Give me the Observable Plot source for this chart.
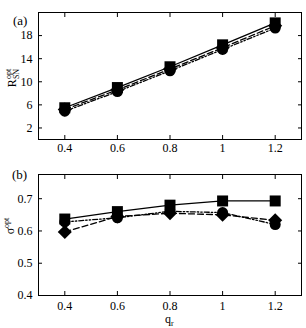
<!DOCTYPE html>
<html><head><meta charset="utf-8">
<script src="https://cdn.jsdelivr.net/npm/d3@7"></script>
<script src="https://cdn.jsdelivr.net/npm/@observablehq/plot@0.6"></script>
<style>
body{margin:0;background:#fff}
#wrap{position:relative;width:306px;height:328px;font-family:"Liberation Serif","DejaVu Serif",serif;color:#000}
#wrap svg{display:block}
.lbl{position:absolute;font-size:13px;line-height:1;white-space:nowrap}
.rot{position:absolute;font-size:12px;line-height:1;white-space:nowrap;transform:translate(-50%,-50%) rotate(-90deg)}
.stk{display:inline-flex;flex-direction:column;font-size:8px;line-height:0.95;vertical-align:middle}
</style></head><body><div id="wrap"></div>
<script>
const qr = [0.4, 0.6, 0.8, 1.0, 1.2];
const xTicks = [0.4, 0.6, 0.8, 1, 1.2];
const rSquare = [5.5, 9.0, 12.6, 16.4, 20.2];
const rDiamond = [5.2, 8.6, 12.2, 15.9, 19.7];
const rCircle = [4.9, 8.3, 11.9, 15.6, 19.3];
const rTicks = [2, 6, 10, 14, 18];
const sSquare = [0.637, 0.660, 0.680, 0.693, 0.693];
const sDiamond = [0.597, 0.645, 0.655, 0.650, 0.633];
const sCircle = [0.628, 0.641, 0.661, 0.657, 0.620];
const sTicks = [0.4, 0.5, 0.6, 0.7];

const diamondSym = {draw(ctx, size) {
  const h = Math.sqrt(size / 2);
  ctx.moveTo(0, -h); ctx.lineTo(h, 0); ctx.lineTo(0, h); ctx.lineTo(-h, 0); ctx.closePath();
}};

const seriesStyle = [
  {key: "square", symbol: "square", r: 6.2, dash: null},
  {key: "diamond", symbol: diamondSym, r: 5.6, dash: "6,3"},
  {key: "circle", symbol: "circle", r: 5.5, dash: "5,2,1.5,2,1.5,2"}
];

function rows(vals) {
  return qr.map((q, i) => ({q, v: vals[i]}));
}

function panel({height, marginTop, marginBottom, yDomain, yTicks, data, padX}) {
  const marks = [
    Plot.frame({stroke: "#000", strokeWidth: 1}),
    Plot.axisX(xTicks, {anchor: "bottom", tickSize: 0, tickPadding: padX, label: null, tickFormat: d => String(d)}),
    Plot.axisX(xTicks, {anchor: "bottom", tickSize: 4, dy: -4, tickFormat: () => "", label: null}),
    Plot.axisX(xTicks, {anchor: "top", tickSize: 4, dy: 4, tickFormat: () => "", label: null}),
    Plot.axisY(yTicks, {anchor: "left", tickSize: 0, tickPadding: 6, label: null, tickFormat: d => String(d)}),
    Plot.axisY(yTicks, {anchor: "left", tickSize: 4, dx: 4, tickFormat: () => "", label: null}),
    Plot.axisY(yTicks, {anchor: "right", tickSize: 4, dx: -4, tickFormat: () => "", label: null})
  ];
  seriesStyle.forEach((s, i) => {
    marks.push(Plot.line(rows(data[i]), {x: "q", y: "v", stroke: "#000", strokeWidth: 1.3, strokeDasharray: s.dash}));
  });
  seriesStyle.forEach((s, i) => {
    marks.push(Plot.dot(rows(data[i]), {x: "q", y: "v", symbol: s.symbol, r: s.r, fill: "#000", stroke: "none"}));
  });
  return Plot.plot({
    width: 306, height, marginLeft: 38, marginRight: 5, marginTop, marginBottom,
    style: {fontFamily: '"Liberation Serif","DejaVu Serif",serif', fontSize: "12px", color: "#000", background: "transparent", overflow: "visible"},
    x: {domain: [0.3, 1.3]},
    y: {domain: yDomain},
    marks
  });
}

const wrap = document.getElementById("wrap");
wrap.appendChild(panel({height: 160, marginTop: 12, marginBottom: 21, yDomain: [0, 22], yTicks: rTicks, data: [rSquare, rDiamond, rCircle], padX: 4}));
wrap.appendChild(panel({height: 168, marginTop: 14, marginBottom: 33, yDomain: [0.4, 0.775], yTicks: sTicks, data: [sSquare, sDiamond, sCircle], padX: 6}));

function addLbl(html, cls, style) {
  const d = document.createElement("div");
  d.className = cls; d.innerHTML = html;
  Object.assign(d.style, style);
  wrap.appendChild(d);
}
addLbl("(a)", "lbl", {left: "13px", top: "14px"});
addLbl("(b)", "lbl", {left: "12px", top: "168px"});
addLbl('R<span class="stk"><span>opt</span><span>SN</span></span>', "rot", {left: "13px", top: "78px"});
addLbl('σ<sup style="font-size:8px">opt</sup>', "rot", {left: "9px", top: "226px"});
addLbl('q<span style="font-size:8px;position:relative;top:3px">r</span>', "lbl", {left: "165px", top: "313px", fontSize: "12px"});
</script></body></html>
